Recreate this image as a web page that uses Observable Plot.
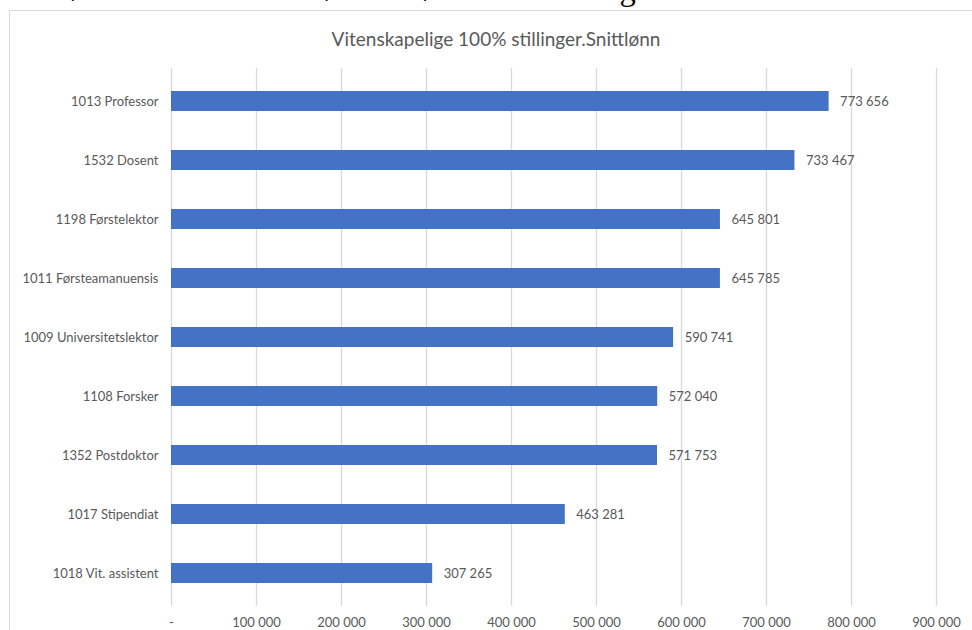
<!DOCTYPE html>
<html><head><meta charset="utf-8">
<script src="https://cdn.jsdelivr.net/npm/d3@7"></script>
<script src="https://cdn.jsdelivr.net/npm/@observablehq/plot@0.6"></script>
<style>
html,body{margin:0;padding:0;background:#fff;overflow:hidden;}
#wrap{position:relative;width:972px;height:630px;overflow:hidden;}
#head{position:absolute;left:0;top:-27.5px;line-height:1;font-family:"Liberation Serif","DejaVu Serif",serif;font-size:32.5px;color:#000;white-space:nowrap;}
#box{position:absolute;left:9px;top:10px;width:1000px;height:700px;border:1px solid #d9d9d9;box-sizing:border-box;background:#fff;}
#title{position:absolute;left:0;width:992px;top:27px;text-align:center;font-family:Lato,"Open Sans",sans-serif;font-size:19px;color:#595959;}
#chart{position:absolute;left:0;top:0;}
</style></head>
<body><div id="wrap"><div id="head">Snittlønn ved UiT etter høstens lønnsforhandlinger.</div><div id="box"></div><div id="title">Vitenskapelige 100% stillinger.Snittlønn</div><div id="chart"></div></div>
<script>
const categories = ["1013 Professor","1532 Dosent","1198 Førstelektor","1011 Førsteamanuensis","1009 Universitetslektor","1108 Forsker","1352 Postdoktor","1017 Stipendiat","1018 Vit. assistent"];
const values = [773656,733467,645801,645785,590741,572040,571753,463281,307265];
const xTicks = [0,100000,200000,300000,400000,500000,600000,700000,800000,900000];

const loc = d3.formatLocale({decimal:",",thousands:"\u00a0",grouping:[3],currency:["",""]});
const fmt = loc.format(",d");
const data = categories.map((c,i)=>({cat:c,val:values[i]}));

const plot = Plot.plot({
  width: 972, height: 630,
  marginLeft: 171, marginRight: 36, marginTop: 68, marginBottom: 24,
  style: {fontFamily: "Lato, 'Open Sans', sans-serif", fontSize: "13px", color: "#595959", background: "transparent"},
  x: {domain: [0, 900000], ticks: xTicks, label: null},
  y: {domain: categories, paddingInner: 0.66, paddingOuter: 0.33, label: null},
  marks: [
    Plot.ruleX(xTicks, {stroke: "#d9d9d9", strokeWidth: 1.3}),
    Plot.barX(data, {x: "val", y: "cat", fill: "#4472C4"}),
    Plot.text(data, {x: "val", y: "cat", text: d => fmt(d.val), textAnchor: "start", dx: 11, fill: "#595959"}),
    Plot.axisX({ticks: xTicks, tickFormat: d => d === 0 ? "-" : fmt(d), tickSize: 0, tickPadding: 11, label: null, fill: "#595959"}),
    Plot.axisY({tickSize: 0, tickPadding: 13, label: null, fill: "#595959"})
  ]
});
document.getElementById("chart").appendChild(plot);
</script></body></html>
